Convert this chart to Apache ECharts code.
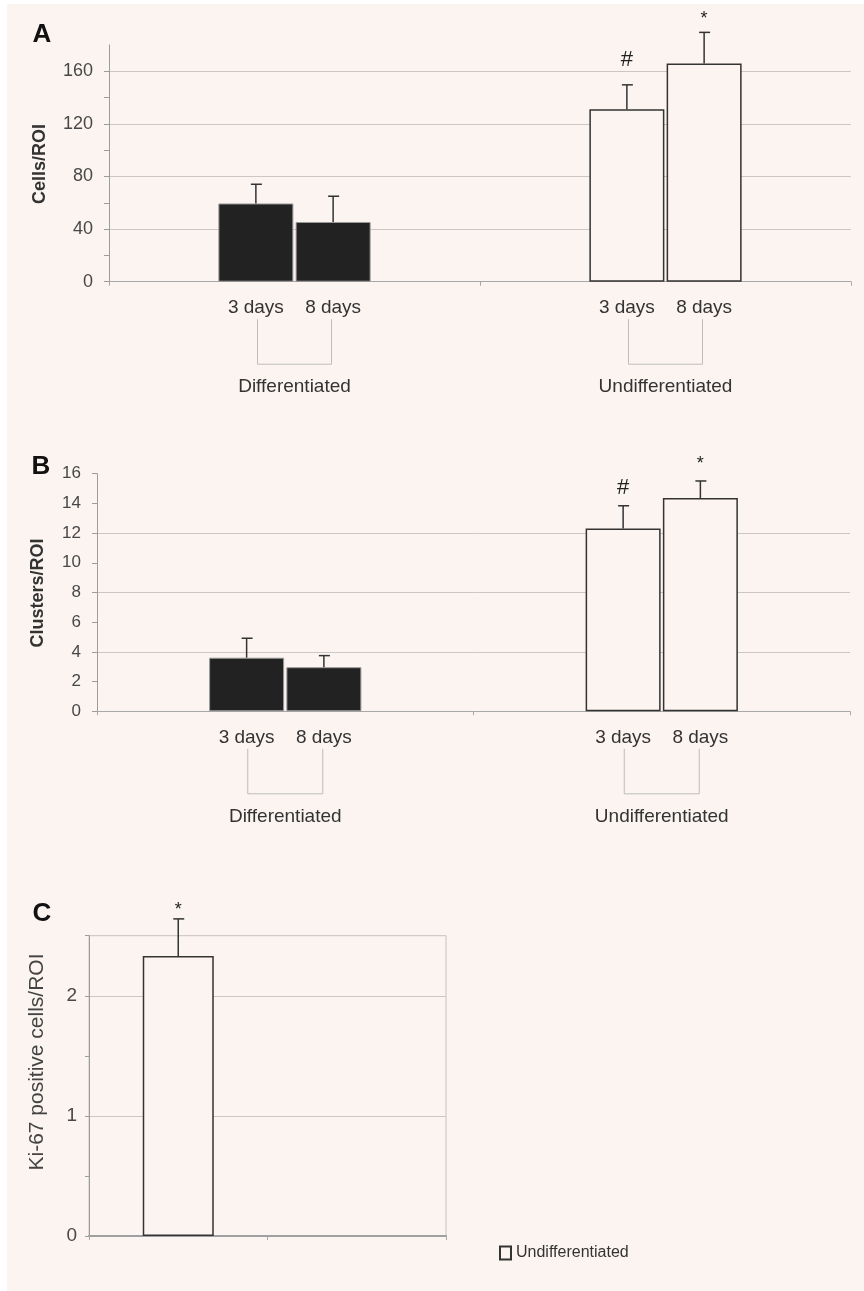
<!DOCTYPE html>
<html><head><meta charset="utf-8">
<script src="https://cdn.jsdelivr.net/npm/echarts@6/dist/echarts.min.js"></script>
<style>
html,body{margin:0;padding:0;background:#ffffff;}
#bg{position:absolute;left:7px;top:4px;right:0;bottom:0;background:#fcf4f1;}
#chart{position:absolute;left:0;top:0;width:864px;height:1291px;}
</style></head><body>
<div id="bg"></div><div id="chart"></div>
<script>
// ---------- data ----------
const groups = ['Differentiated', 'Undifferentiated'];
const dayNames = ['3 days', '8 days'];

const cells3 = [59.5, 131.1];
const cells3Sd = [14.6, 18.6];
const cells8 = [45.4, 165.9];
const cells8Sd = [19.6, 23.7];
const cells3Marks = ['', '#'];
const cells8Marks = ['', '*'];
const cellsTicks = [0, 20, 40, 60, 80, 100, 120, 140, 160];
const cellsLabels = [0, 40, 80, 120, 160];

const clusters3 = [3.61, 12.31];
const clusters3Sd = [1.31, 1.53];
const clusters8 = [2.97, 14.36];
const clusters8Sd = [0.78, 1.15];
const clusters3Marks = ['', '#'];
const clusters8Marks = ['', '*'];
const clustersTicks = [0, 2, 4, 6, 8, 10, 12, 14, 16];
const clustersLabels = [0, 2, 4, 6, 8, 10, 12, 14, 16];

const ki67Cats = ['Undifferentiated', ''];
const ki67 = [2.33];
const ki67Sd = [0.31];
const ki67Marks = ['*'];
const ki67Ticks = [0, 0.5, 1, 1.5, 2, 2.5];
const ki67Labels = [0, 1, 2];

// ---------- style ----------
const BG = '#fcf4f1';
const FONT = '"Liberation Sans", Arial, sans-serif';
function hasFont(f) {
  const c = document.createElement('canvas').getContext('2d');
  c.font = '40px monospace';
  const a = c.measureText('Undifferentiated mmm 012').width;
  c.font = '40px "' + f + '", monospace';
  return c.measureText('Undifferentiated mmm 012').width !== a;
}
const narrowOK = hasFont('Liberation Sans Narrow');
const NFONT = narrowOK ? '"Liberation Sans Narrow", ' + FONT : FONT;
const CTICK = narrowOK ? 20 : 19;
const LEGSIZE = narrowOK ? 20 : 16;

const groupStyle = [
  { color: '#222222', borderColor: '#9a9a9a', borderWidth: 1 },
  { color: BG, borderColor: '#333333', borderWidth: 1.5 }
];

function mainY(gi, max, interval, ticks, labels, fs, margin, font, tickLen) {
  return {
    type: 'value', gridIndex: gi, min: 0, max: max, interval: interval, position: 'left',
    axisLine: { show: true, lineStyle: { color: '#9c9c9c', width: 1 } },
    axisTick: { show: true, length: tickLen, customValues: ticks, lineStyle: { color: '#9c9c9c' } },
    axisLabel: {
      customValues: labels, fontSize: fs, color: '#484848', margin: margin, fontFamily: font,
      formatter: function (v) { return labels.indexOf(v) >= 0 ? String(v) : ''; }
    },
    splitLine: { show: false }
  };
}
function gridY(gi, max, interval) {
  return {
    type: 'value', gridIndex: gi, min: 0, max: max, interval: interval, position: 'left',
    axisLine: { show: false }, axisTick: { show: false }, axisLabel: { show: false },
    splitLine: { show: true, showMinLine: false, showMaxLine: false, lineStyle: { color: '#cbc7c5', width: 1 } }
  };
}
function catX(gi, data, margin) {
  return {
    type: 'category', gridIndex: gi, data: data,
    axisLine: { show: true, lineStyle: { color: '#a8a8a8', width: 1 } },
    axisTick: { show: true, length: 4, lineStyle: { color: '#a8a8a8' } },
    axisLabel: { margin: margin, fontSize: 19, color: '#333', fontFamily: FONT },
    splitLine: { show: false }
  };
}
function barSeries(name, xi, yi, vals, barW) {
  return {
    type: 'bar', name: name, xAxisIndex: xi, yAxisIndex: yi, barWidth: barW, barGap: '3%',
    data: vals.map(function (v, i) { return { value: v, itemStyle: groupStyle[i] }; }),
    label: { show: true, position: 'bottom', distance: 17, formatter: '{a}', fontSize: 19, color: '#333', fontFamily: FONT },
    z: 2, silent: true
  };
}
function errSeries(xi, yi, means, sds, marks, slot, nSlots, slotW, markOff) {
  return {
    type: 'custom', xAxisIndex: xi, yAxisIndex: yi, silent: true, clip: false, z: 5,
    data: means.map(function (m, i) { return [i, m, m + sds[i]]; }),
    renderItem: function (params, api) {
      const i = params.dataIndex;
      const b = api.coord([api.value(0), api.value(1)]);
      const t = api.coord([api.value(0), api.value(2)]);
      const x = b[0] + (slot - (nSlots - 1) / 2) * slotW;
      const ch = [
        { type: 'line', shape: { x1: x, y1: b[1], x2: x, y2: t[1] }, style: { stroke: '#333', lineWidth: 1.5 } },
        { type: 'line', shape: { x1: x - 5, y1: t[1], x2: x + 6, y2: t[1] }, style: { stroke: '#333', lineWidth: 1.5 } }
      ];
      const mk = marks[i];
      if (mk) {
        ch.push({ type: 'text', style: {
          text: mk, x: x, y: t[1] - markOff[mk], align: 'center', verticalAlign: 'middle',
          fontSize: mk === '#' ? 22 : 18, fontFamily: FONT, fill: '#222' } });
      }
      return { type: 'group', children: ch };
    }
  };
}
function bracketSeries(xi, yi, n, half, y1, y2) {
  const d = [];
  for (let i = 0; i < n; i++) d.push([i, 0]);
  return {
    type: 'custom', xAxisIndex: xi, yAxisIndex: yi, silent: true, clip: false, z: 1, data: d,
    renderItem: function (params, api) {
      const c = api.coord([api.value(0), 0]);
      return { type: 'polyline', shape: { points: [
        [c[0] - half, c[1] + y1], [c[0] - half, c[1] + y2], [c[0] + half, c[1] + y2], [c[0] + half, c[1] + y1]] },
        style: { stroke: '#bdbdbd', lineWidth: 1, fill: null } };
    }
  };
}

const chart = echarts.init(document.getElementById('chart'), null, { renderer: 'canvas' });
const option = {
  backgroundColor: 'transparent',
  animation: false,
  grid: [
    { left: 109, top: 45, width: 742, height: 236.7 },
    { left: 97, top: 473.7, width: 753, height: 237.6 },
    { left: 89, top: 935.7, width: 357, height: 300.3, show: true, borderColor: '#c6c2c0', borderWidth: 1, backgroundColor: 'transparent' }
  ],
  xAxis: [
    catX(0, groups, 96),
    catX(1, groups, 96),
    Object.assign(catX(2, ki67Cats, 10), { axisLabel: { show: false }, axisLine: { lineStyle: { color: '#9c9c9c' } } }),
    { type: 'category', gridIndex: 2, data: ki67Cats, position: 'top', axisLine: { show: true, lineStyle: { color: '#a0a0a0', width: 2 } }, axisTick: { show: false }, axisLabel: { show: false } }
  ],
  yAxis: [
    mainY(0, 180, 20, cellsTicks, cellsLabels, 18, 16, FONT, 5),
    gridY(0, 180, 40),
    mainY(1, 16, 2, clustersTicks, clustersLabels, 17, 16, FONT, 5),
    gridY(1, 16, 4),
    mainY(2, 2.5, 0.5, ki67Ticks, ki67Labels, CTICK, 12, NFONT, 4),
    gridY(2, 2.5, 1)
  ],
  legend: {
    data: ['Undifferentiated'], left: 494, top: 1240, icon: 'rect', itemWidth: 11, itemHeight: 13,
    textStyle: { fontSize: LEGSIZE, fontFamily: NFONT, color: '#333' }, selectedMode: false
  },
  graphic: [
    { type: 'text', x: 42, y: 35, style: { text: 'A', fontSize: 26, fontWeight: 'bold', fontFamily: FONT, fill: '#111', align: 'center', verticalAlign: 'middle' } },
    { type: 'text', x: 41, y: 467, style: { text: 'B', fontSize: 26, fontWeight: 'bold', fontFamily: FONT, fill: '#111', align: 'center', verticalAlign: 'middle' } },
    { type: 'text', x: 42, y: 914, style: { text: 'C', fontSize: 26, fontWeight: 'bold', fontFamily: FONT, fill: '#111', align: 'center', verticalAlign: 'middle' } },
    { type: 'text', x: 40, y: 164, rotation: Math.PI / 2, style: { text: 'Cells/ROI', fontSize: 18, fontWeight: 'bold', fontFamily: FONT, fill: '#333', align: 'center', verticalAlign: 'middle' } },
    { type: 'text', x: 38, y: 593, rotation: Math.PI / 2, style: { text: 'Clusters/ROI', fontSize: 18, fontWeight: 'bold', fontFamily: FONT, fill: '#333', align: 'center', verticalAlign: 'middle' } },
    { type: 'text', x: 37, y: 1062, rotation: Math.PI / 2, style: { text: 'Ki-67 positive cells/ROI', fontSize: 21, fontFamily: FONT, fill: '#444', align: 'center', verticalAlign: 'middle' } }
  ],
  series: [
    barSeries(dayNames[0], 0, 0, cells3, 75),
    barSeries(dayNames[1], 0, 0, cells8, 75),
    errSeries(0, 0, cells3, cells3Sd, cells3Marks, 0, 2, 77.25, { '#': 25, '*': 13 }),
    errSeries(0, 0, cells8, cells8Sd, cells8Marks, 1, 2, 77.25, { '#': 25, '*': 13 }),
    bracketSeries(0, 0, groups.length, 37, 37.5, 82.5),

    barSeries(dayNames[0], 1, 2, clusters3, 75),
    barSeries(dayNames[1], 1, 2, clusters8, 75),
    errSeries(1, 2, clusters3, clusters3Sd, clusters3Marks, 0, 2, 77.25, { '#': 18, '*': 16.5 }),
    errSeries(1, 2, clusters8, clusters8Sd, clusters8Marks, 1, 2, 77.25, { '#': 18, '*': 16.5 }),
    bracketSeries(1, 2, groups.length, 37.5, 37.5, 82.5),

    { type: 'bar', name: 'Undifferentiated', xAxisIndex: 2, yAxisIndex: 4, barWidth: 71, data: ki67, silent: true, z: 2,
      itemStyle: { color: BG, borderColor: '#333333', borderWidth: 1.5 } },
    errSeries(2, 4, ki67, ki67Sd, ki67Marks, 0, 1, 0, { '*': 9 })
  ]
};
chart.setOption(option);
</script>
</body></html>
